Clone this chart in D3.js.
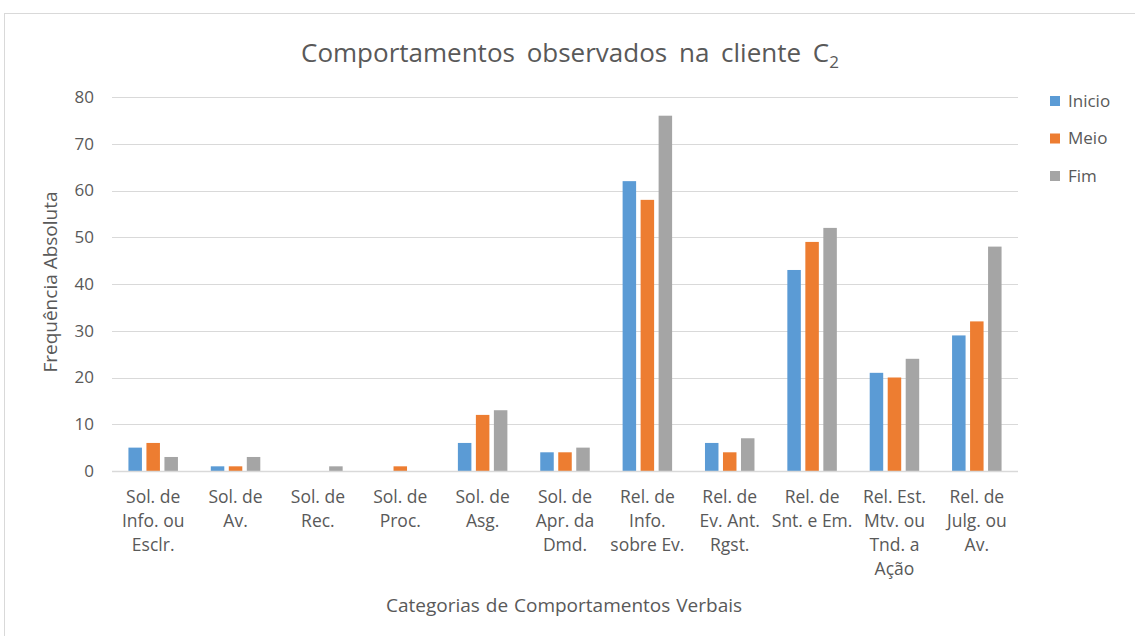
<!DOCTYPE html>
<html>
<head>
<meta charset="utf-8">
<script src="https://cdn.jsdelivr.net/npm/d3@7"></script>
<style>
  body { margin: 0; background: #fff; }
  svg { font-family: "Open Sans", Lato, sans-serif; }
</style>
</head>
<body>
<svg id="chart" width="1135" height="636"></svg>
<script>
// categories (x labels, one line per array entry)
const categories = [
  ["Sol. de", "Info. ou", "Esclr."],
  ["Sol. de", "Av."],
  ["Sol. de", "Rec."],
  ["Sol. de", "Proc."],
  ["Sol. de", "Asg."],
  ["Sol. de", "Apr. da", "Dmd."],
  ["Rel. de", "Info.", "sobre Ev."],
  ["Rel. de", "Ev. Ant.", "Rgst."],
  ["Rel. de", "Snt. e Em."],
  ["Rel. Est.", "Mtv. ou", "Tnd. a", "Ação"],
  ["Rel. de", "Julg. ou", "Av."]
];
const seriesNames = ["Inicio", "Meio", "Fim"];
const inicio = [5, 1, 0, 0, 6, 4, 62, 6, 43, 21, 29];
const meio   = [6, 1, 0, 1, 12, 4, 58, 4, 49, 20, 32];
const fim    = [3, 3, 1, 0, 13, 5, 76, 7, 52, 24, 48];
const yTicks = [0, 10, 20, 30, 40, 50, 60, 70, 80];
const colors = ["#5B9BD5", "#ED7D31", "#A5A5A5"];

const svg = d3.select("#chart");
const textColor = "#595959";

// chart border
svg.append("rect")
  .attr("x", 4.5).attr("y", 13.5)
  .attr("width", 1140).attr("height", 640)
  .attr("fill", "none").attr("stroke", "#d9d9d9");

const plot = { left: 112, right: 1018, top: 97, bottom: 471 };

const x = d3.scaleBand()
  .domain(d3.range(categories.length))
  .range([plot.left, plot.right]);

const y = d3.scaleLinear().domain([0, 80]).range([plot.bottom, plot.top]);

const barW = 13.5, barGap = 4.5;
const groupW = 3 * barW + 2 * barGap;
const xs = d3.scaleBand()
  .domain(d3.range(3))
  .range([0, groupW])
  .paddingInner(barGap / (barW + barGap));

// gridlines
svg.append("g")
  .selectAll("line")
  .data(yTicks.slice(1))
  .join("line")
  .attr("x1", plot.left).attr("x2", plot.right)
  .attr("y1", d => Math.round(y(d)) + 0.5)
  .attr("y2", d => Math.round(y(d)) + 0.5)
  .attr("stroke", "#d9d9d9").attr("stroke-width", 1);

// y tick labels
svg.append("g")
  .selectAll("text")
  .data(yTicks)
  .join("text")
  .attr("x", 94)
  .attr("y", d => y(d))
  .attr("dy", "0.35em")
  .attr("text-anchor", "end")
  .attr("fill", textColor)
  .attr("font-size", 17)
  .text(d => d);

// bars
const seriesData = [inicio, meio, fim];
const groups = svg.append("g")
  .selectAll("g")
  .data(categories.map((c, i) => i))
  .join("g")
  .attr("transform", i => `translate(${x(i) + (x.bandwidth() - groupW) / 2},0)`);

groups.selectAll("rect")
  .data(i => seriesData.map((s, k) => ({ k, v: s[i] })))
  .join("rect")
  .attr("x", d => xs(d.k))
  .attr("width", xs.bandwidth())
  .attr("y", d => y(d.v))
  .attr("height", d => y(0) - y(d.v))
  .attr("fill", d => colors[d.k]);

// x axis line
svg.append("line")
  .attr("x1", plot.left).attr("x2", plot.right)
  .attr("y1", plot.bottom + 0.5).attr("y2", plot.bottom + 0.5)
  .attr("stroke", "#d9d9d9").attr("stroke-width", 1.5);

// x labels
const xl = svg.append("g")
  .selectAll("text")
  .data(categories)
  .join("text")
  .attr("text-anchor", "middle")
  .attr("fill", textColor)
  .attr("font-size", 17.5)
  .attr("transform", (d, i) => `translate(${x(i) + x.bandwidth() / 2},503)`);
xl.selectAll("tspan")
  .data(d => d)
  .join("tspan")
  .attr("x", 0)
  .attr("y", (d, j) => j * 24)
  .text(d => d);

// title
const title = svg.append("text")
  .attr("x", 570).attr("y", 62)
  .attr("text-anchor", "middle")
  .attr("fill", textColor)
  .attr("font-size", 26)
  .attr("word-spacing", 5);
title.append("tspan").text("Comportamentos observados na cliente C");
title.append("tspan").attr("font-size", 17).attr("dy", 6).text("2");

// axis titles
svg.append("text")
  .attr("transform", "translate(57,282) rotate(-90)")
  .attr("text-anchor", "middle")
  .attr("fill", textColor)
  .attr("font-size", 19)
  .text("Frequência Absoluta");

svg.append("text")
  .attr("x", 564).attr("y", 612)
  .attr("text-anchor", "middle")
  .attr("fill", textColor)
  .attr("font-size", 19)
  .attr("word-spacing", 1)
  .text("Categorias de Comportamentos Verbais");

// legend
const legend = svg.append("g")
  .selectAll("g")
  .data(seriesNames)
  .join("g")
  .attr("transform", (d, i) => `translate(1050,${101 + i * 37.5})`);
legend.append("rect")
  .attr("x", 0).attr("y", -5)
  .attr("width", 10).attr("height", 10)
  .attr("fill", (d, i) => colors[i]);
legend.append("text")
  .attr("x", 18).attr("dy", "0.35em")
  .attr("fill", textColor)
  .attr("font-size", 17)
  .text(d => d);
</script>
</body>
</html>
